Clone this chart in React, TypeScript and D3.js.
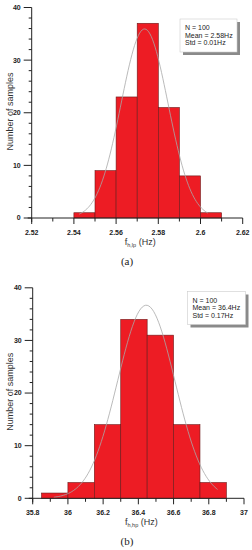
import React from "react";
import * as d3 from "d3";

// histogram (a): low-pass natural frequency
const binsA = [2.54, 2.55, 2.56, 2.57, 2.58, 2.59, 2.6, 2.61];
const countsA = [1, 9, 23, 37, 21, 8, 1];
const ticksA = [2.52, 2.54, 2.56, 2.58, 2.6, 2.62];
const statsA = ["N = 100", "Mean = 2.58Hz", "Std = 0.01Hz"];
const fitA = { mean: 2.5735, sd: 0.0111, from: 2.5425, to: 2.6035 };

// histogram (b): high-pass natural frequency
const binsB = [35.85, 36.0, 36.15, 36.3, 36.45, 36.6, 36.75, 36.9];
const countsB = [1, 3, 14, 34, 31, 14, 3];
const ticksB = [35.8, 36, 36.2, 36.4, 36.6, 36.8, 37];
const statsB = ["N = 100", "Mean = 36.4Hz", "Std = 0.17Hz"];
const fitB = { mean: 36.445, sd: 0.163, from: 35.92, to: 36.85 };

const yTicks = [0, 10, 20, 30, 40];
const font = "'Liberation Sans', Arial, sans-serif";

function Histogram(props) {
  const { top, xDomain, xRange, bins, counts, ticks, minorStep, stats, fit, sub, caption, box } = props;
  const y0 = top + 210.5;
  const x = d3.scaleLinear().domain(xDomain).range(xRange);
  const y = d3.scaleLinear().domain([0, 40]).range([y0, top]);
  const axisX = xRange[0];

  const binW = bins[1] - bins[0];
  const n = d3.sum(counts);
  const curvePts = d3.range(0, 101).map((i) => {
    const v = fit.from + (fit.to - fit.from) * (i / 100);
    const z = (v - fit.mean) / fit.sd;
    return [v, (n * binW) / (fit.sd * Math.sqrt(2 * Math.PI)) * Math.exp(-0.5 * z * z)];
  });
  const line = d3.line().x((d) => x(d[0])).y((d) => y(d[1])).curve(d3.curveBasis);

  const nMinor = Math.round((xDomain[1] - xDomain[0]) / minorStep);
  const minorTicks = d3.range(0, nMinor + 1).map((i) => xDomain[0] + i * minorStep);
  const yMinor = d3.range(0, 41, 2);

  return (
    <g>
      {counts.map((c, i) => (
        <rect key={i} x={x(bins[i])} y={y(c)} width={x(bins[i + 1]) - x(bins[i])} height={y0 - y(c)}
          fill="#ED1C24" stroke="#6b1a1a" strokeWidth={0.6} />
      ))}
      <path d={line(curvePts)} fill="none" stroke="#a8a8a8" strokeWidth={0.8} />
      {/* y axis */}
      <line x1={axisX} x2={axisX} y1={top} y2={y0 + 4} stroke="#222" strokeWidth={1} />
      {yMinor.map((v) => (
        <line key={v} x1={axisX - (v % 10 === 0 ? 8 : 3)} x2={axisX} y1={y(v)} y2={y(v)} stroke="#222" strokeWidth={1} />
      ))}
      {yTicks.map((v) => (
        <text key={v} x={axisX - 11} y={y(v) + 2.4} textAnchor="end" fontSize={7} fontWeight="bold" fontFamily={font} fill="#222">{v}</text>
      ))}
      <text transform={`translate(12.5,${top + 104}) rotate(-90)`} textAnchor="middle" fontSize={9} fontFamily={font} fill="#333">Number of samples</text>
      {/* x axis */}
      <line x1={axisX - 4} x2={xRange[1]} y1={y0} y2={y0} stroke="#222" strokeWidth={1} />
      {minorTicks.map((v, i) => (
        <line key={i} x1={x(v)} x2={x(v)} y1={y0} y2={y0 + (i % 2 === 0 ? 6 : 3.5)} stroke="#222" strokeWidth={1} />
      ))}
      {ticks.map((v) => (
        <text key={v} x={x(v)} y={y0 + 17} textAnchor="middle" fontSize={7} fontWeight="bold" fontFamily={font} fill="#222">{v}</text>
      ))}
      <text x={(xRange[0] + xRange[1]) / 2 + 3} y={y0 + 27} textAnchor="middle" fontSize={9} fontFamily={font} fill="#333">
        f<tspan fontSize={5.5} dy={2}>{sub}</tspan><tspan dy={-2}> (Hz)</tspan>
      </text>
      <text x={127} y={y0 + 47} textAnchor="middle" fontSize={11} fontFamily="'Liberation Serif', 'Times New Roman', serif" fill="#222">{caption}</text>
      {/* stats box */}
      <rect x={box.x + 3} y={box.y + 3} width={box.w} height={box.h} fill="#8a8a8a" />
      <rect x={box.x} y={box.y} width={box.w} height={box.h} fill="#fff" stroke="#ccc" strokeWidth={0.6} />
      {stats.map((s, i) => (
        <text key={i} x={box.x + 5} y={box.y + 11 + i * 7.7} fontSize={7} fontFamily={font} fill="#222">{s}</text>
      ))}
    </g>
  );
}

export default function App() {
  return (
    <svg width={252} height={550} style={{ position: "absolute", left: 0, top: 0, background: "#fff" }}>
      <Histogram top={7.5} xDomain={[2.52, 2.62]} xRange={[31.7, 242.7]} bins={binsA} counts={countsA}
        ticks={ticksA} minorStep={0.01} stats={statsA} fit={fitA} sub="h,lp" caption="(a)"
        box={{ x: 180, y: 19, w: 57, h: 33 }} />
      <Histogram top={287.8} xDomain={[35.8, 37]} xRange={[32.7, 244]} bins={binsB} counts={countsB}
        ticks={ticksB} minorStep={0.1} stats={statsB} fit={fitB} sub="h,hp" caption="(b)"
        box={{ x: 187.5, y: 291.5, w: 58, h: 33 }} />
    </svg>
  );
}
